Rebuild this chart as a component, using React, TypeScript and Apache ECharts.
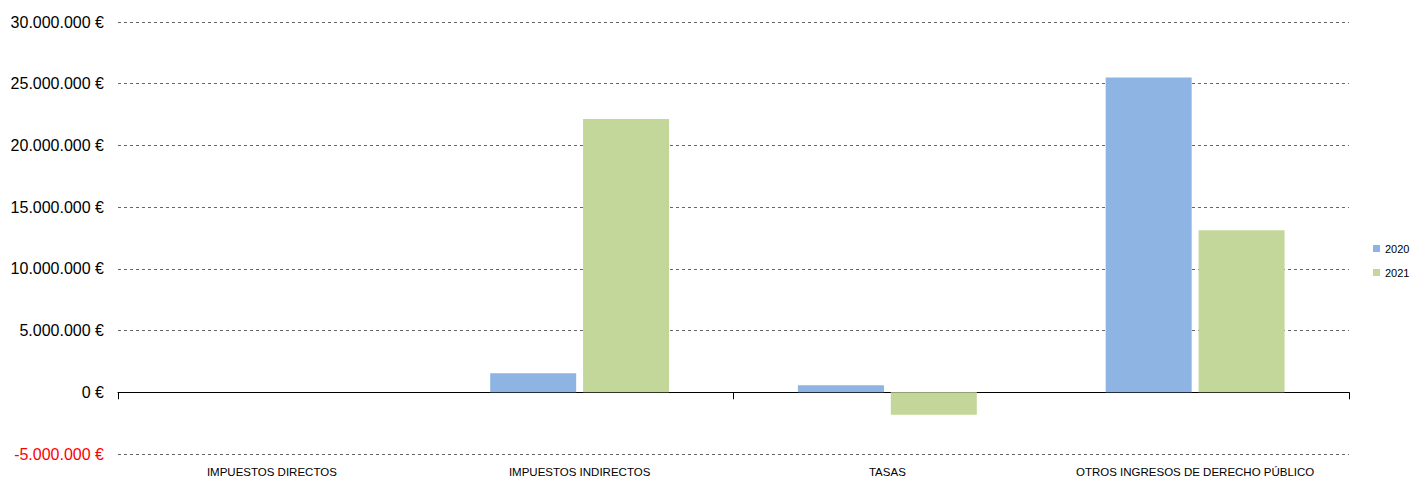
import React, { useEffect, useRef } from "react";
import * as echarts from "echarts";

const categories = [
  "IMPUESTOS DIRECTOS",
  "IMPUESTOS INDIRECTOS",
  "TASAS",
  "OTROS INGRESOS DE DERECHO PÚBLICO",
];
const seriesNames = ["2020", "2021"];
const values2020 = [0, 1550000, 580000, 25500000];
const values2021 = [0, 22150000, -1820000, 13130000];
const colors = ["#8EB4E3", "#C4D79B"];

const FONT = "'Liberation Sans', Arial, sans-serif";

function fmt(v: number): string {
  const neg = v < 0;
  const s = Math.abs(v).toString().replace(/\B(?=(\d{3})+(?!\d))/g, ".");
  return (neg ? "-" : "") + s + " €";
}

export default function App() {
  const ref = useRef<HTMLDivElement>(null);
  useEffect(() => {
    if (!ref.current) return;
    const chart = echarts.init(ref.current, null, { renderer: "svg" });
    chart.setOption({
      animation: false,
      backgroundColor: "#fff",
      grid: { left: 118, right: 64, top: 22, bottom: 28, containLabel: false },
      legend: {
        orient: "vertical",
        left: 1368,
        top: 238,
        itemWidth: 7,
        itemHeight: 7,
        itemGap: 13,
        icon: "rect",
        data: seriesNames,
        textStyle: { fontFamily: FONT, fontSize: 11, color: "#000" },
      },
      xAxis: [
        {
          type: "category",
          data: categories,
          position: "bottom",
          axisLine: { show: false, onZero: false },
          axisTick: { show: false },
          axisLabel: {
            fontFamily: FONT,
            fontSize: 11.5,
            color: "#000",
            margin: 12,
            interval: 0,
          },
          splitLine: { show: false },
        },
        {
          type: "category",
          data: categories,
          position: "bottom",
          axisLine: { show: true, onZero: true, lineStyle: { color: "#000", width: 1 } },
          axisTick: { show: true, length: 7, lineStyle: { color: "#000" } },
          axisLabel: { show: false },
          splitLine: { show: false },
        },
      ],
      yAxis: {
        type: "value",
        min: -5000000,
        max: 30000000,
        interval: 5000000,
        axisLine: { show: false },
        axisTick: { show: false },
        axisLabel: {
          fontFamily: FONT,
          fontSize: 16,
          margin: 14,
          formatter: (v: number) => fmt(v),
          color: (v: any) => (Number(v) < 0 ? "#FF0000" : "#000"),
        },
        splitLine: {
          show: true,
          lineStyle: { color: "#666", type: [3, 3], width: 1 },
        },
      },
      series: [
        {
          name: seriesNames[0],
          type: "bar",
          xAxisIndex: 0,
          data: values2020,
          barWidth: 86,
          barGap: "8%",
          itemStyle: { color: colors[0] },
        },
        {
          name: seriesNames[1],
          type: "bar",
          xAxisIndex: 0,
          data: values2021,
          barWidth: 86,
          barGap: "8%",
          itemStyle: { color: colors[1] },
        },
      ],
    });
    return () => chart.dispose();
  }, []);
  return (
    <div
      ref={ref}
      style={{ position: "fixed", left: 0, top: 0, width: 1413, height: 482 }}
    />
  );
}
